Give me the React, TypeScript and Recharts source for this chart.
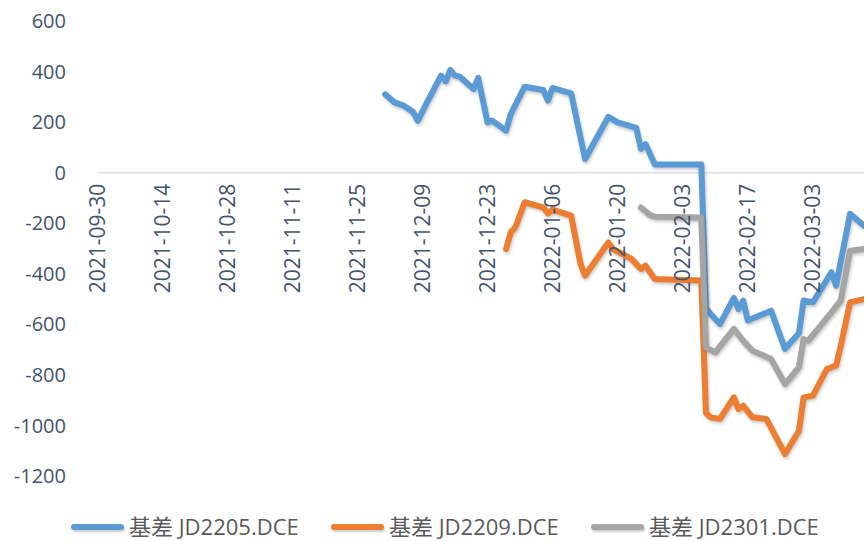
import { LineChart, Line, XAxis, YAxis, ReferenceLine } from "recharts";

// axis ticks
const tickDates = [
  "2021-09-30", "2021-10-14", "2021-10-28", "2021-11-11", "2021-11-25", "2021-12-09",
  "2021-12-23", "2022-01-06", "2022-01-20", "2022-02-03", "2022-02-17", "2022-03-03",
];
const yTicks = [600, 400, 200, 0, -200, -400, -600, -800, -1000, -1200];

// 基差 JD2205.DCE
const jd2205Dates = [
  "2021-12-01", "2021-12-03", "2021-12-05", "2021-12-07", "2021-12-08", "2021-12-10",
  "2021-12-13", "2021-12-14", "2021-12-15", "2021-12-16", "2021-12-17", "2021-12-20",
  "2021-12-21", "2021-12-23", "2021-12-24", "2021-12-27", "2021-12-28", "2021-12-31",
  "2022-01-04", "2022-01-05", "2022-01-06", "2022-01-10", "2022-01-13", "2022-01-18",
  "2022-01-20", "2022-01-24", "2022-01-25", "2022-01-26", "2022-01-28", "2022-02-07",
  "2022-02-08", "2022-02-09", "2022-02-11", "2022-02-14", "2022-02-15", "2022-02-16",
  "2022-02-17", "2022-02-22", "2022-02-25", "2022-02-28", "2022-03-01", "2022-03-03",
  "2022-03-07", "2022-03-08", "2022-03-11", "2022-03-14",
];
const jd2205Values = [
  310, 278, 265, 240, 205, 278,
  384, 361, 406, 384, 380, 331,
  375, 199, 206, 166, 232, 340,
  327, 285, 335, 314, 54, 221,
  199, 177, 94, 113, 32, 32,
  -535, -559, -599, -495, -540, -506,
  -585, -546, -697, -635, -506, -513,
  -394, -447, -163, -210,
];

// 基差 JD2209.DCE
const jd2209Dates = [
  "2021-12-27", "2021-12-28", "2021-12-29", "2021-12-31", "2022-01-04", "2022-01-05",
  "2022-01-06", "2022-01-10", "2022-01-12", "2022-01-13", "2022-01-18", "2022-01-19",
  "2022-01-23", "2022-01-25", "2022-01-26", "2022-01-28", "2022-02-07", "2022-02-08",
  "2022-02-09", "2022-02-11", "2022-02-14", "2022-02-15", "2022-02-16", "2022-02-18",
  "2022-02-21", "2022-02-25", "2022-02-28", "2022-03-01", "2022-03-03", "2022-03-06",
  "2022-03-08", "2022-03-09", "2022-03-11", "2022-03-14",
];
const jd2209Values = [
  -302, -236, -216, -117, -137, -161,
  -146, -170, -360, -407, -276, -302,
  -341, -381, -368, -421, -427, -950,
  -968, -974, -889, -935, -922, -968,
  -974, -1113, -1021, -889, -882, -777,
  -763, -684, -513, -500,
];

// 基差 JD2301.DCE
const jd2301Dates = [
  "2022-01-25", "2022-01-27", "2022-01-28", "2022-02-07", "2022-02-08", "2022-02-10",
  "2022-02-14", "2022-02-16", "2022-02-18", "2022-02-22", "2022-02-25", "2022-02-28",
  "2022-03-01", "2022-03-02", "2022-03-07", "2022-03-09", "2022-03-11", "2022-03-14",
];
const jd2301Values = [
  -138, -168, -174, -177, -691, -711,
  -618, -665, -704, -737, -836, -770,
  -658, -665, -553, -506, -309, -302,
];

const START = Date.UTC(2021, 8, 30);
const DAY = 86400000;
const toDay = (s: string) => {
  const [y, m, d] = s.split("-").map(Number);
  return Math.round((Date.UTC(y, m - 1, d) - START) / DAY);
};
const build = (dates: string[], values: number[]) =>
  dates.map((d, i) => ({ day: toDay(d), value: values[i] }));

const series = [
  { name: "基差 JD2205.DCE", color: "#5b9bd5", data: build(jd2205Dates, jd2205Values) },
  { name: "基差 JD2209.DCE", color: "#ed7d31", data: build(jd2209Dates, jd2209Values) },
  { name: "基差 JD2301.DCE", color: "#a5a5a5", data: build(jd2301Dates, jd2301Values) },
];

const W = 868;
const H = 541;
const TOP = 21;
const BOTTOM = 64; // plus 1px x axis
const Y_MIN = -1200;
const Y_MAX = 600;
const FONT = '"Open Sans", "Noto Sans CJK SC", sans-serif';
const TEXT = "#44546a";

// the category labels hang under the zero line, not at the bottom of the plot
const zeroY = TOP + ((H - TOP - BOTTOM - 1) * Y_MAX) / (Y_MAX - Y_MIN);

const DateTick = ({ x, payload }: { x?: number; payload?: { value: number } }) => {
  const label = tickDates[tickDates.map(toDay).indexOf(payload?.value ?? -1)] ?? "";
  const y = zeroY + 11;
  return (
    <text
      x={x}
      y={y}
      dy="0.36em"
      transform={`rotate(-90, ${x}, ${y})`}
      textAnchor="end"
      fill={TEXT}
      fontSize={21}
      fontFamily={FONT}
    >
      {label}
    </text>
  );
};

export default function App() {
  return (
    <div style={{ position: "absolute", left: 0, top: 0, width: W, height: H, background: "#fff" }}>
      <style>{`.shadow-line .recharts-line-curve { filter: drop-shadow(1.5px 2.5px 1.5px rgba(0,0,0,0.22)); }`}</style>
      <LineChart width={W} height={H} margin={{ top: TOP, right: 4, bottom: BOTTOM, left: 0 }}>
        <XAxis
          type="number"
          dataKey="day"
          domain={[0, 165]}
          ticks={tickDates.map(toDay)}
          tick={<DateTick />}
          interval={0}
          axisLine={false}
          tickLine={false}
          height={1}
          allowDataOverflow
        />
        <YAxis
          type="number"
          domain={[Y_MIN, Y_MAX]}
          ticks={yTicks}
          width={97}
          axisLine={false}
          tickLine={false}
          tickSize={0}
          tickMargin={31}
          tick={{ fontSize: 20, fill: TEXT, fontFamily: FONT }}
        />
        <ReferenceLine y={0} stroke="#d9dee6" strokeWidth={1.5} />
        {series.map((s) => (
          <Line
            key={s.name}
            className="shadow-line"
            data={s.data}
            dataKey="value"
            name={s.name}
            type="linear"
            stroke={s.color}
            strokeWidth={6}
            strokeLinecap="round"
            strokeLinejoin="round"
            dot={false}
            activeDot={false}
            isAnimationActive={false}
          />
        ))}
      </LineChart>

      {/* legend */}
      <div
        style={{
          position: "absolute",
          left: 71,
          top: 514,
          display: "flex",
          fontFamily: FONT,
          fontSize: 22,
          lineHeight: "25px",
          color: "#595959",
        }}
      >
        {series.map((s) => (
          <div key={s.name} style={{ width: 260, display: "flex", alignItems: "center" }}>
            <div
              style={{
                width: 53,
                height: 6,
                borderRadius: 3,
                background: s.color,
                marginRight: 5,
                boxShadow: "1px 2px 2px rgba(0,0,0,0.2)",
              }}
            />
            <span>{s.name}</span>
          </div>
        ))}
      </div>
    </div>
  );
}
